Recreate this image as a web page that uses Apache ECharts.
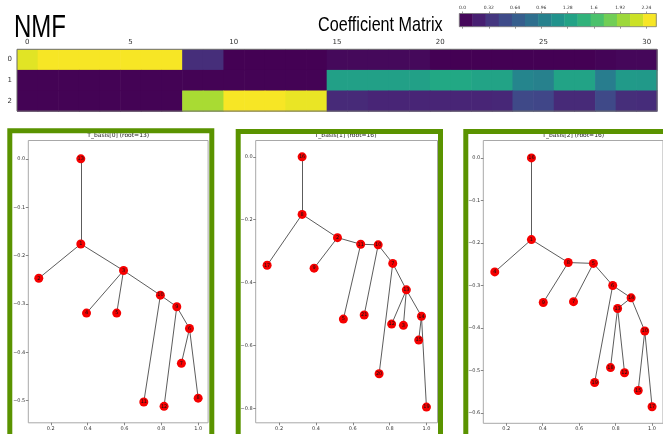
<!DOCTYPE html>
<html>
<head>
<meta charset="utf-8">
<script src="https://cdn.jsdelivr.net/npm/echarts@6/dist/echarts.min.js"></script>
<style>
  html, body { margin: 0; padding: 0; background: #fff; }
  #chart { width: 663px; height: 434px; }
</style>
</head>
<body>
<div id="chart"></div>
<script>
// ---- Coefficient matrix (3 components x 31 samples) ----
const columns = ['0','1','2','3','4','5','6','7','8','9','10','11','12','13','14','15',
                 '16','17','18','19','20','21','22','23','24','25','26','27','28','29','30'];
const rowLabels = ['0', '1', '2'];
const coefRow0 = [2.20, 2.28, 2.28, 2.28, 2.28, 2.28, 2.28, 2.28, 0.30, 0.30,
                  0.00, 0.00, 0.00, 0.00, 0.00, 0.05, 0.05, 0.05, 0.05, 0.05,
                  0.00, 0.00, 0.00, 0.00, 0.00, 0.00, 0.00, 0.00, 0.02, 0.04, 0.04];
const coefRow1 = [0.01, 0.01, 0.01, 0.01, 0.01, 0.01, 0.01, 0.01, 0.01, 0.01,
                  0.01, 0.01, 0.01, 0.01, 0.01, 1.30, 1.30, 1.30, 1.30, 1.30,
                  1.38, 1.38, 1.33, 1.33, 1.04, 1.00, 1.33, 1.33, 0.97, 1.24, 1.23];
const coefRow2 = [0.01, 0.01, 0.01, 0.01, 0.01, 0.01, 0.01, 0.01, 2.00, 2.00,
                  2.28, 2.28, 2.28, 2.23, 2.23, 0.27, 0.27, 0.24, 0.24, 0.24,
                  0.24, 0.24, 0.24, 0.25, 0.50, 0.48, 0.27, 0.27, 0.50, 0.30, 0.29];

// ---- Colour bar ----
const colorbarBounds = [-0.04, 0.12, 0.28, 0.44, 0.60, 0.76, 0.92, 1.08,
                        1.24, 1.40, 1.56, 1.72, 1.88, 2.04, 2.20, 2.36];
const colorbarTicks = [0, 0.32, 0.64, 0.96, 1.28, 1.6, 1.92, 2.24];

// ---- Basis trees: node names, positions and edges ----
const tree0Names = ['13', '1', '2', '3', '4', '5', '10', '9', '6', '7', '8', '11', '12'];
const tree0X = [0.363, 0.363, 0.135, 0.595, 0.394, 0.558, 0.795, 0.884, 0.953, 0.909, 1.000, 0.705, 0.815];
const tree0Y = [0.000, -0.176, -0.247, -0.231, -0.319, -0.319, -0.282, -0.306, -0.351, -0.423, -0.495, -0.503, -0.512];
const tree0Edges = [['13','1'], ['1','2'], ['1','3'], ['3','4'], ['3','5'], ['3','10'],
                    ['10','11'], ['10','9'], ['9','12'], ['9','6'], ['6','7'], ['6','8']];

const tree1Names = ['16', '8', '17', '2', '9', '11', '5', '10', '21', '7', '20', '13', '12', '3', '14', '15', '19'];
const tree1X = [0.325, 0.325, 0.135, 0.517, 0.390, 0.643, 0.549, 0.738, 0.662, 0.817, 0.743, 0.891, 0.811, 0.875, 0.973, 0.958, 1.000];
const tree1Y = [0.000, -0.183, -0.345, -0.257, -0.354, -0.278, -0.516, -0.280, -0.503, -0.339, -0.690, -0.423, -0.532, -0.536, -0.507, -0.583, -0.796];
const tree1Edges = [['16','8'], ['8','17'], ['8','2'], ['2','9'], ['2','11'], ['11','5'], ['11','10'],
                    ['10','21'], ['10','7'], ['7','20'], ['7','13'], ['13','12'], ['13','3'],
                    ['13','14'], ['14','15'], ['14','19']];

const tree2Names = ['16', '1', '4', '8', '9', '5', '7', '6', '19', '14', '13', '18', '12', '10', '15', '17'];
const tree2X = [0.338, 0.338, 0.137, 0.540, 0.403, 0.678, 0.569, 0.784, 0.685, 0.885, 0.811, 0.772, 0.849, 0.960, 0.924, 1.000];
const tree2Y = [0.000, -0.192, -0.268, -0.246, -0.340, -0.248, -0.338, -0.300, -0.528, -0.329, -0.354, -0.493, -0.505, -0.407, -0.547, -0.585];
const tree2Edges = [['16','1'], ['1','4'], ['1','8'], ['8','9'], ['8','5'], ['5','7'], ['5','6'],
                    ['6','19'], ['6','14'], ['14','13'], ['13','18'], ['13','12'], ['14','10'],
                    ['10','15'], ['10','17']];

const treeTitles = ['T_basis[0] (root=13)', 'T_basis[1] (root=16)', 'T_basis[2] (root=16)'];
const treeXTicks = [0.2, 0.4, 0.6, 0.8, 1.0];
const tree0YTicks = [0.0, -0.1, -0.2, -0.3, -0.4, -0.5];
const tree1YTicks = [0.0, -0.2, -0.4, -0.6, -0.8];
const tree2YTicks = [0.0, -0.1, -0.2, -0.3, -0.4, -0.5, -0.6];

// ---- build option ----
const viridis = ['#440154', '#482475', '#414487', '#355f8d', '#2a788e', '#21918c',
                 '#22a884', '#44bf70', '#7ad151', '#bddf26', '#fde725'];
const GREEN = '#5a9300';

const heatData = [];
[coefRow0, coefRow1, coefRow2].forEach((row, r) => {
  row.forEach((v, c) => heatData.push([c, r, v]));
});

const colorbarData = [];
for (let i = 0; i < colorbarBounds.length - 1; i++) {
  const lo = colorbarBounds[i], hi = colorbarBounds[i + 1];
  colorbarData.push([lo, hi, (lo + hi) / 2]);
}

const panels = [
  { names: tree0Names, xs: tree0X, ys: tree0Y, edges: tree0Edges, yTicks: tree0YTicks,
    grid: { left: 28.3, top: 140.5, width: 179.8, height: 282.3 },
    xr: [0.078, 1.054], yr: [-0.546, 0.038] },
  { names: tree1Names, xs: tree1X, ys: tree1Y, edges: tree1Edges, yTicks: tree1YTicks,
    grid: { left: 255.7, top: 140.5, width: 181.8, height: 282.3 },
    xr: [0.073, 1.060], yr: [-0.846, 0.052] },
  { names: tree2Names, xs: tree2X, ys: tree2Y, edges: tree2Edges, yTicks: tree2YTicks,
    grid: { left: 483.3, top: 140.5, width: 182.8, height: 282.8 },
    xr: [0.074, 1.060], yr: [-0.624, 0.041] }
];

const fmtNeg = v => v.toFixed(1).replace('-', '\u2212');

const grid = [
  // heatmap
  { left: 17, top: 49.3, width: 640, height: 61.8, show: true, borderColor: '#6b6b6b', borderWidth: 1, z: 5 },
  // colour bar
  { left: 459.3, top: 13.5, width: 197, height: 13.2, show: true, borderColor: '#777', borderWidth: 0.8, z: 5 }
];
const xAxis = [
  { gridIndex: 0, type: 'category', data: columns, position: 'top',
    axisLine: { show: false }, splitLine: { show: false },
    axisTick: { alignWithLabel: true, interval: 4, length: 3, lineStyle: { color: '#555' } },
    axisLabel: { interval: 4, fontSize: 7, color: '#333', margin: 4, fontFamily: 'DejaVu Sans' } },
  { gridIndex: 0, type: 'category', data: columns, position: 'bottom',
    axisLine: { show: false }, splitLine: { show: false },
    axisTick: { alignWithLabel: true, interval: 4, length: 3, lineStyle: { color: '#555' } },
    axisLabel: { show: false } },
  { gridIndex: 1, type: 'value', min: -0.04, max: 2.36, position: 'top',
    axisLine: { show: false, onZero: false }, splitLine: { show: false },
    axisTick: { customValues: colorbarTicks, length: 2, lineStyle: { color: '#555', width: 0.6 } },
    axisLabel: { customValues: colorbarTicks, fontSize: 4.5, color: '#333', margin: 3,
                 formatter: v => (v === 0 ? '0.0' : String(v)) } },
  { gridIndex: 1, type: 'value', min: -0.04, max: 2.36, position: 'bottom',
    axisLine: { show: false, onZero: false }, splitLine: { show: false },
    axisTick: { customValues: colorbarTicks, length: 2, lineStyle: { color: '#555', width: 0.6 } },
    axisLabel: { show: false } }
];
const yAxis = [
  { gridIndex: 0, type: 'category', data: rowLabels, inverse: true,
    axisLine: { show: false }, splitLine: { show: false },
    axisTick: { alignWithLabel: true, length: 3, lineStyle: { color: '#555' } },
    axisLabel: { fontSize: 7, color: '#333', margin: 5, fontFamily: 'DejaVu Sans' } },
  { gridIndex: 1, type: 'value', min: 0, max: 1, show: false }
];

const series = [
  // matrix cells, drawn on the category axes; a hair of overlap hides seams
  { type: 'custom', xAxisIndex: 0, yAxisIndex: 0, data: heatData, silent: true,
    renderItem: (params, api) => {
      const c = api.coord([api.value(0), api.value(1)]);
      const s = api.size([1, 1]);
      return { type: 'rect',
               shape: { x: c[0] - s[0] / 2, y: c[1] - s[1] / 2, width: s[0] + 0.6, height: s[1] + 0.6 },
               style: { fill: api.visual('color') } };
    } },
  // colour bar blocks
  { type: 'custom', xAxisIndex: 2, yAxisIndex: 1, data: colorbarData, silent: true,
    encode: { x: [0, 1] },
    renderItem: (params, api) => {
      const p0 = api.coord([api.value(0), 1]);
      const p1 = api.coord([api.value(1), 0]);
      return { type: 'rect',
               shape: { x: p0[0], y: p0[1], width: p1[0] - p0[0] + 0.4, height: p1[1] - p0[1] },
               style: { fill: api.visual('color') } };
    } }
];

const graphic = [
  { type: 'text', x: 14, y: 28, scaleX: 0.75,
    style: { text: 'NMF', font: '32px "Liberation Sans", Arial, sans-serif', fill: '#000',
             textAlign: 'left', textVerticalAlign: 'middle' } },
  { type: 'text', x: 318, y: 25, scaleX: 0.77,
    style: { text: 'Coefficient Matrix', font: '21px "Liberation Sans", Arial, sans-serif', fill: '#000',
             textAlign: 'left', textVerticalAlign: 'middle' } }
];

const frameRects = [
  { x: 9.8, y: 130.8, w: 202 },
  { x: 238.2, y: 131.5, w: 202.3 },
  { x: 465.8, y: 131.5, w: 202 }
];

panels.forEach((p, k) => {
  const gi = grid.length;
  grid.push(Object.assign({ show: true, borderColor: '#a8a8a8', borderWidth: 1, backgroundColor: '#fff' }, p.grid));
  const xi = xAxis.length, yi = yAxis.length;
  xAxis.push({ gridIndex: gi, type: 'value', min: p.xr[0], max: p.xr[1], position: 'bottom',
    axisLine: { show: false, onZero: false }, splitLine: { show: false },
    axisTick: { customValues: treeXTicks, length: 2.5, lineStyle: { color: '#555', width: 0.7 } },
    axisLabel: { customValues: treeXTicks, fontSize: 5, color: '#333', margin: 3, formatter: fmtNeg } });
  yAxis.push({ gridIndex: gi, type: 'value', min: p.yr[0], max: p.yr[1], position: 'left',
    axisLine: { show: false, onZero: false }, splitLine: { show: false },
    axisTick: { customValues: p.yTicks, length: 2.5, lineStyle: { color: '#555', width: 0.7 } },
    axisLabel: { customValues: p.yTicks, fontSize: 5, color: '#333', margin: 3, formatter: fmtNeg } });
  series.push({
    type: 'graph', coordinateSystem: 'cartesian2d', xAxisIndex: xi, yAxisIndex: yi,
    layout: 'none', silent: true, symbol: 'circle', symbolSize: 9,
    itemStyle: { color: '#f50000' },
    label: { show: true, position: 'inside', fontSize: 5, color: '#111' },
    lineStyle: { color: '#4a4a4a', width: 0.9, opacity: 1, curveness: 0 },
    data: p.names.map((n, j) => ({ name: n, value: [p.xs[j], p.ys[j]] })),
    links: p.edges.map(e => ({ source: e[0], target: e[1] }))
  });
  const g = p.grid;
  graphic.push({ type: 'text', x: g.left + 179.8 / 2, y: 135.5,
    style: { text: treeTitles[k], font: '6px "DejaVu Sans", sans-serif', fill: '#222',
             textAlign: 'center', textVerticalAlign: 'middle' } });
  const r = frameRects[k];
  graphic.push({ type: 'rect', shape: { x: r.x, y: r.y, width: r.w, height: 330 },
    style: { fill: 'transparent', stroke: GREEN, lineWidth: 5 } });
});

const chart = echarts.init(document.getElementById('chart'), null, { renderer: 'canvas' });
chart.setOption({
  animation: false,
  backgroundColor: '#fff',
  textStyle: { fontFamily: '"DejaVu Sans", sans-serif' },
  grid, xAxis, yAxis, series, graphic,
  visualMap: { type: 'continuous', show: false, min: 0, max: 2.3, dimension: 2,
               seriesIndex: [0, 1], inRange: { color: viridis } }
});
</script>
</body>
</html>
